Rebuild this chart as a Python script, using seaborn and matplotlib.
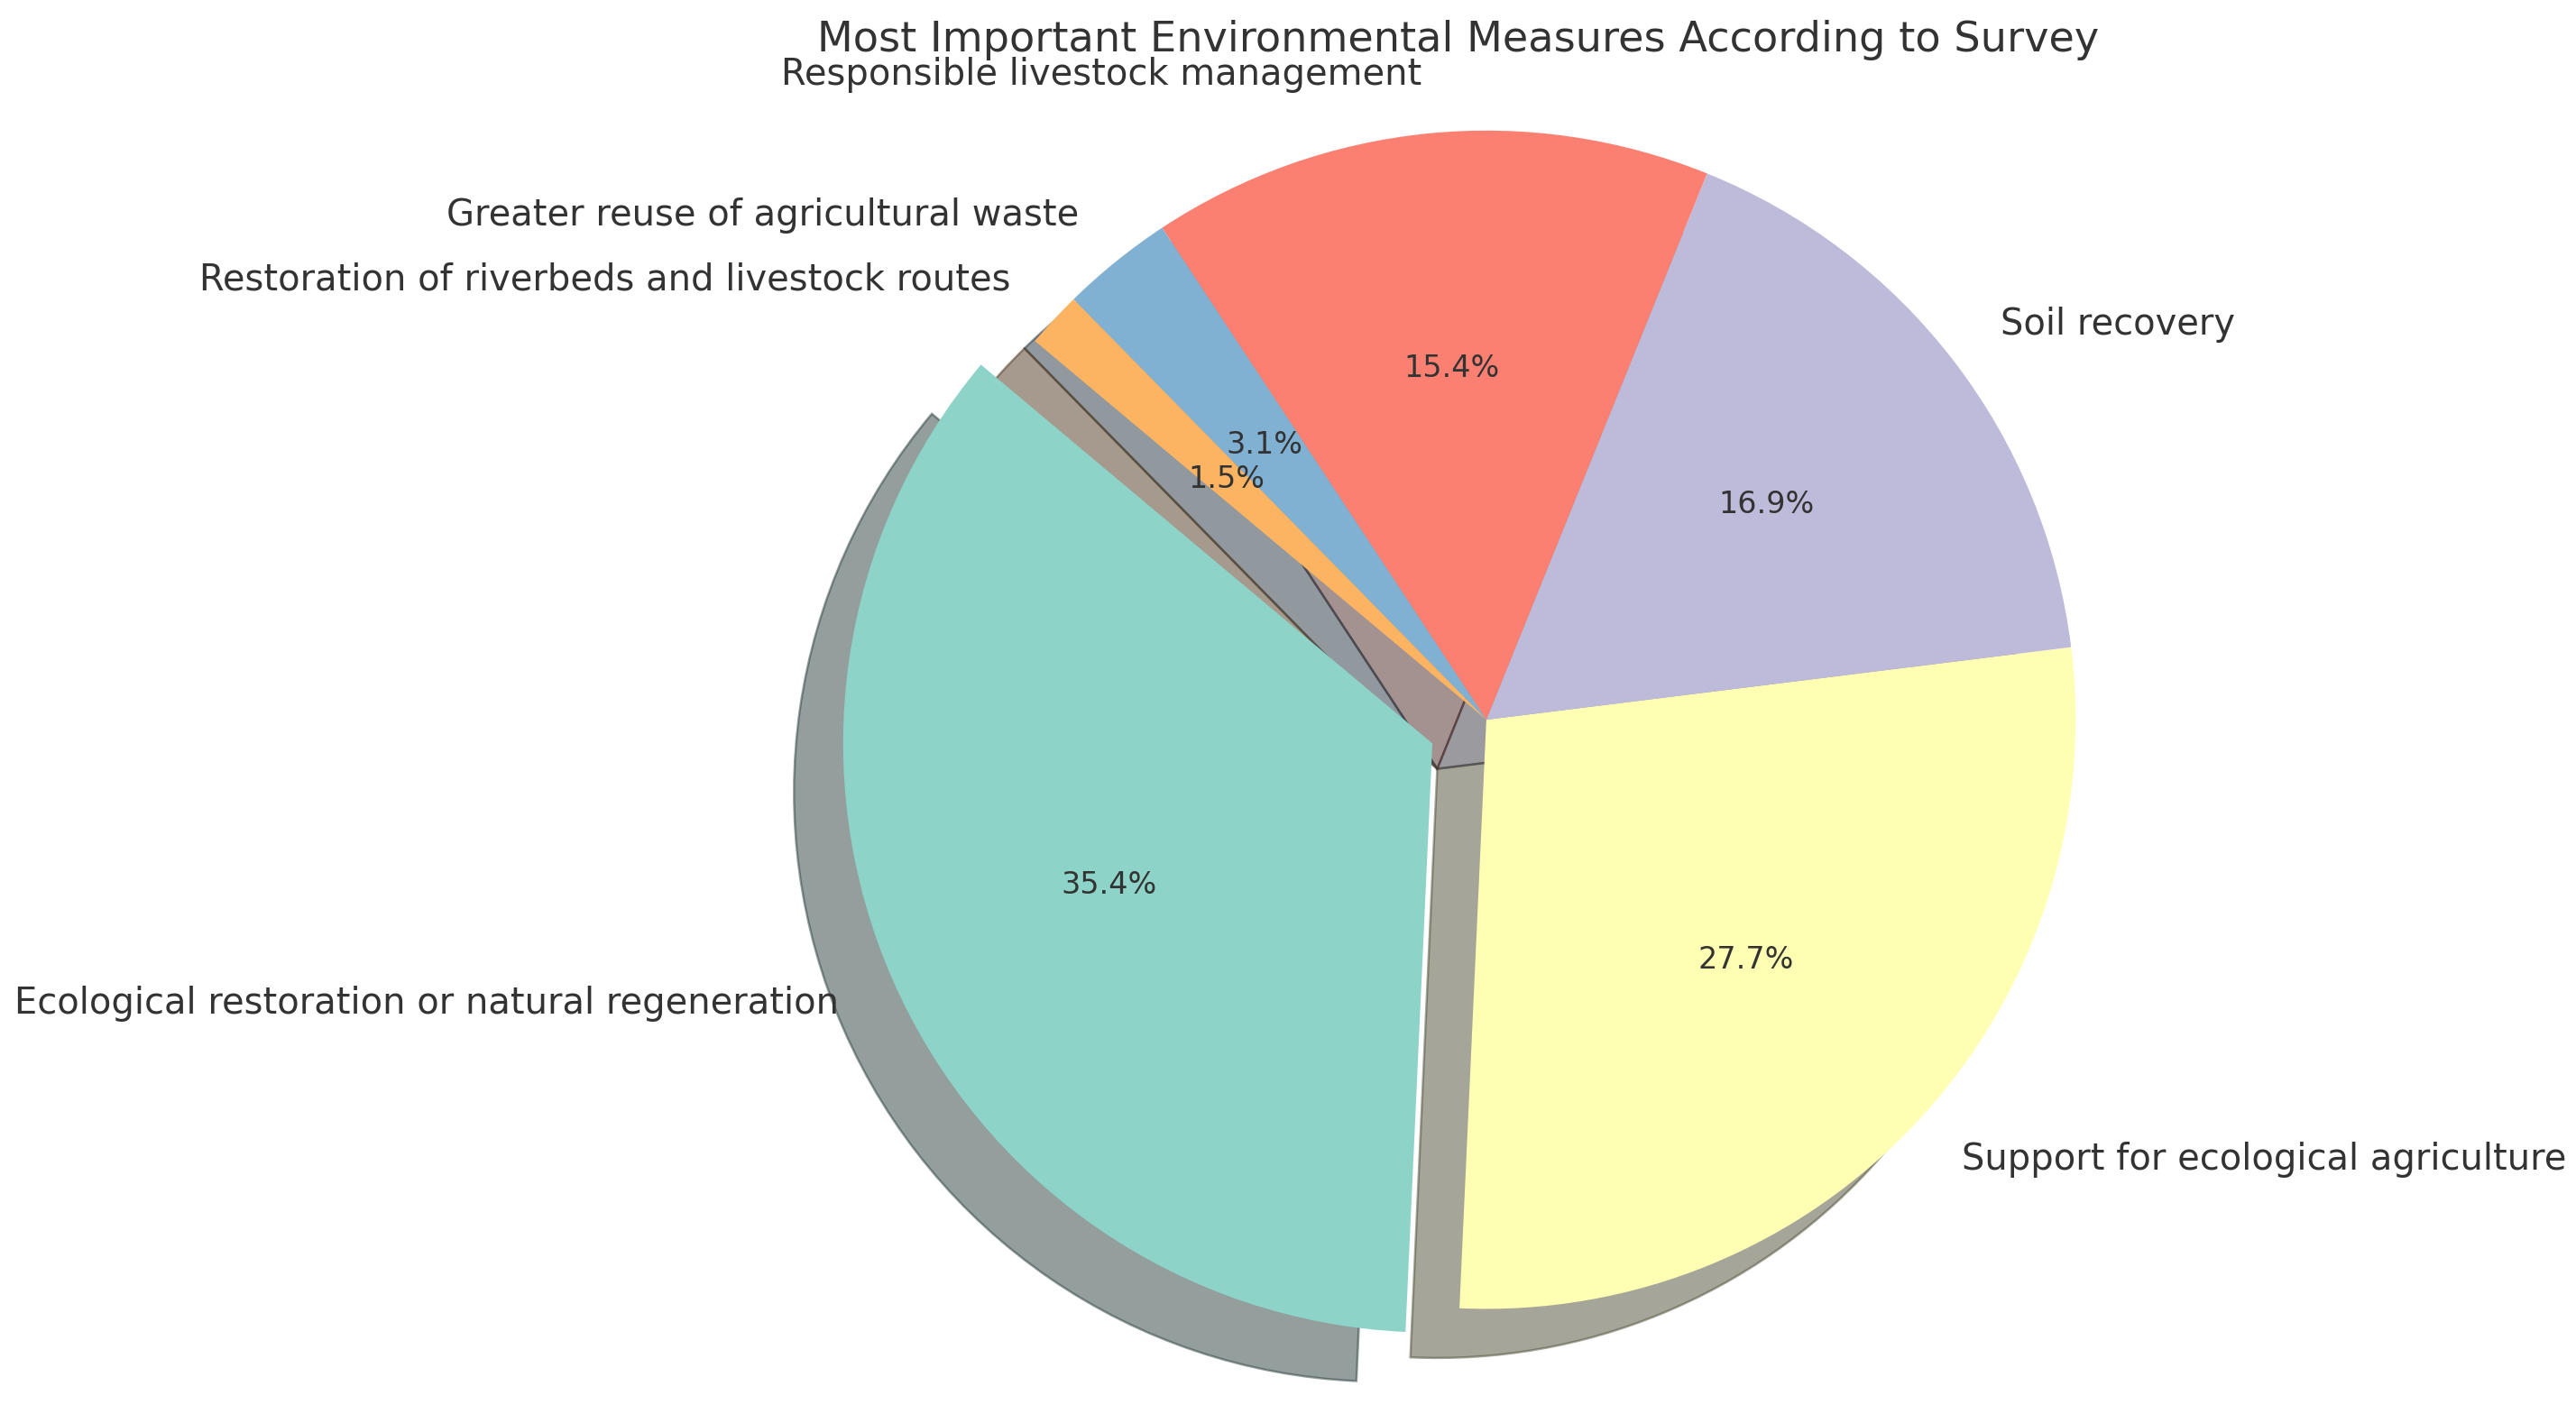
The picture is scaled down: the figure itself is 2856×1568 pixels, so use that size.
import matplotlib
matplotlib.use("Agg")
import matplotlib.pyplot as plt
import seaborn as sns

# Survey answers (number of respondents per measure)
measures = [
    "Ecological restoration or natural regeneration",
    "Support for ecological agriculture",
    "Soil recovery",
    "Responsible livestock management",
    "Greater reuse of agricultural waste",
    "Restoration of riverbeds and livestock routes",
]
counts = [23, 18, 11, 10, 2, 1]
explode = [0.1, 0, 0, 0, 0, 0]

sns.set_theme(style="white")
colors = sns.color_palette("Set3", len(measures))

fig = plt.figure(figsize=(9.52, 5.2267), dpi=300)
ax = fig.add_axes([0.3025, -0.009, 0.549, 1.0])

ax.pie(counts, labels=measures, colors=colors, explode=explode,
       autopct='%1.1f%%', shadow=True, startangle=140,
       wedgeprops={'edgecolor': 'none', 'linewidth': 0.6},
       textprops={'fontsize': 9.6, 'color': '0.2'}, frame=False)
ax.set_xlim(-1.2, 1.2)
ax.set_ylim(-1.2, 1.2)
ax.set_aspect('equal')

for t in ax.texts:
    if t.get_text().endswith('%'):
        t.set_fontsize(8)

fig.text(0.566, 0.986, 'Most Important Environmental Measures According to Survey',
         ha='center', va='top', fontsize=11.1, color='0.2')

plt.savefig('out.png', dpi=300)
